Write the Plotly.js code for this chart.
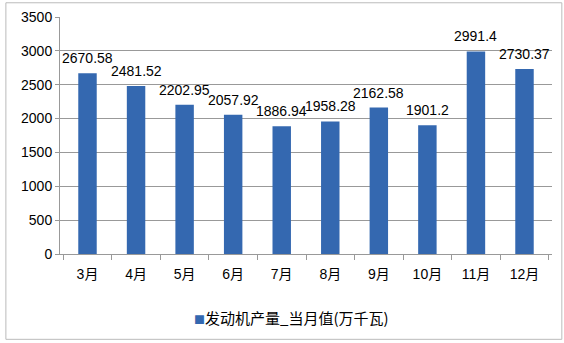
<!DOCTYPE html>
<html><head><meta charset="utf-8">
<script src="https://cdn.plot.ly/plotly-3.0.1.min.js"></script>
<style>body{margin:0;background:#fff}#c{width:564px;height:343px}</style>
</head><body><div id="c"></div>
<script>
const months = ['3月','4月','5月','6月','7月','8月','9月','10月','11月','12月'];
const values = [2670.58,2481.52,2202.95,2057.92,1886.94,1958.28,2162.58,1901.2,2991.4,2730.37];
const labels = ['2670.58','2481.52','2202.95','2057.92','1886.94','1958.28','2162.58','1901.2','2991.4','2730.37'];
const seriesName = '发动机产量_当月值(万千瓦)';
const yTicks = [0,500,1000,1500,2000,2500,3000,3500];
const barColor = '#3468b0';

const font = '"Liberation Sans", "Noto Sans CJK SC", sans-serif';
const labelAnns = months.map((m, i) => ({
  x: m, y: values[i], xref: 'x', yref: 'y', text: labels[i], showarrow: false,
  yanchor: 'bottom', yshift: 5, font: {family: font, size: 14, color: '#000'}
}));
Plotly.newPlot('c', [{
  type: 'bar', x: months, y: values, name: seriesName,
  marker: {color: barColor}, hoverinfo: 'none',
  width: 0.38, showlegend: false
}], {
  width: 564, height: 343,
  margin: {l: 60, r: 12, t: 17, b: 89},
  paper_bgcolor: '#fff', plot_bgcolor: '#fff',
  font: {family: font, size: 14, color: '#000'},
  showlegend: false,
  xaxis: {showline: true, linecolor: '#999', ticks: 'outside', tickcolor: '#999', ticklen: 5,
          tickson: 'boundaries', showgrid: false, tickfont: {size: 14}, ticklabelstandoff: 7},
  yaxis: {range: [0, 3500], tickvals: yTicks, showline: true, linecolor: '#999',
          gridcolor: '#999', gridwidth: 1, zeroline: false, ticks: 'outside', ticklen: 4, tickcolor: '#999',
          tickfont: {size: 14}},
  annotations: labelAnns.concat([{xref: 'paper', yref: 'paper', x: 0.47, y: -0.27, xanchor: 'center', yanchor: 'middle',
    showarrow: false, font: {family: '"Noto Sans CJK SC", sans-serif', size: 15, color: '#000'},
    text: '<span style="color:' + barColor + ';font-size:11px">■</span>' + seriesName}]),
  shapes: [{type: 'rect', xref: 'paper', yref: 'paper', x0: -0.11, x1: 1.02, y0: -0.36, y1: 1.06,
            line: {color: '#bbb', width: 1}}]
}, {displayModeBar: false});
</script></body></html>
